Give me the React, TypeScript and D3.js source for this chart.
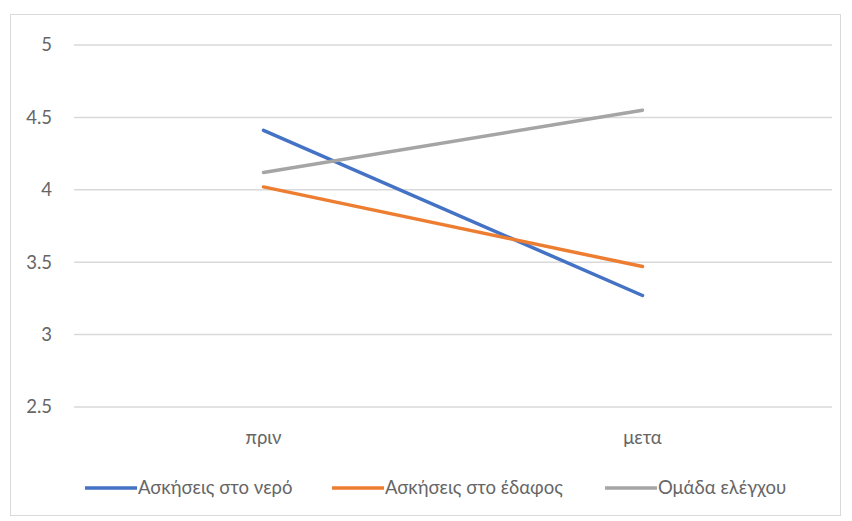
import React from "react";
import * as d3 from "d3";

// Measurement periods on the x axis
const categories = ["πριν", "μετα"];

// Mean score per group, before and after
const seriesNames = ["Ασκήσεις στο νερό", "Ασκήσεις στο έδαφος", "Ομάδα ελέγχου"];
const waterValues = [4.41, 3.27];
const groundValues = [4.02, 3.47];
const controlValues = [4.12, 4.55];

const yTicks = [2.5, 3, 3.5, 4, 4.5, 5];
const colors = ["#4472C4", "#ED7D31", "#A5A5A5"];

const W = 852;
const H = 521;
const plot = { left: 74, right: 832, top: 45, bottom: 407 };

export default function App() {
  const series = [waterValues, groundValues, controlValues];
  const x = d3
    .scaleBand<string>()
    .domain(categories)
    .range([plot.left, plot.right]);
  const y = d3.scaleLinear().domain([2.5, 5]).range([plot.bottom, plot.top]);
  const line = d3
    .line<number>()
    .x((_, i) => (x(categories[i]) as number) + x.bandwidth() / 2)
    .y((d) => y(d));

  const font = "Lato, sans-serif";
  const fs = 18.5;
  const legendX = [85, 332, 605];
  const legendLen = 52;

  return (
    <svg
      width={W}
      height={H}
      style={{ position: "absolute", left: 0, top: 0, background: "#fff" }}
      fontFamily={font}
    >
      <rect x={10.5} y={14.5} width={830} height={501} fill="#fff" stroke="#d9d9d9" />
      {yTicks.map((t) => (
        <g key={t}>
          <line x1={plot.left} x2={plot.right} y1={y(t)} y2={y(t)} stroke="#d9d9d9" strokeWidth={1.5} />
          <text x={52} y={y(t)} dy="0.35em" textAnchor="end" fontSize={fs} fill="#666">
            {t}
          </text>
        </g>
      ))}
      {categories.map((c) => (
        <text
          key={c}
          x={(x(c) as number) + x.bandwidth() / 2}
          y={438}
          dy="0.35em"
          textAnchor="middle"
          fontSize={fs}
          fill="#666"
        >
          {c}
        </text>
      ))}
      {series.map((s, i) => (
        <path key={i} d={line(s) as string} fill="none" stroke={colors[i]} strokeWidth={3.5} strokeLinecap="round" />
      ))}
      {seriesNames.map((n, i) => (
        <g key={n}>
          <line x1={legendX[i]} x2={legendX[i] + legendLen} y1={488} y2={488} stroke={colors[i]} strokeWidth={3.5} />
          <text x={legendX[i] + legendLen + 1} y={488} dy="0.35em" fontSize={fs} fill="#666">
            {n}
          </text>
        </g>
      ))}
    </svg>
  );
}
